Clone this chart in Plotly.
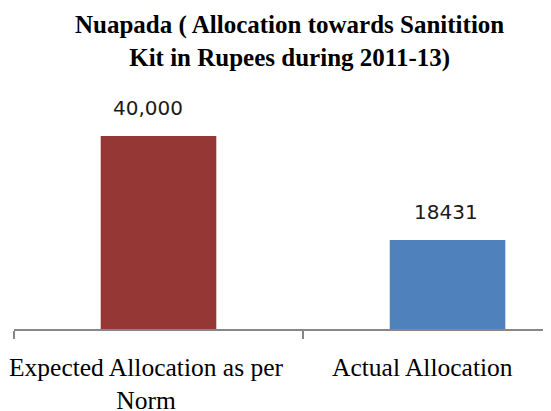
import plotly.graph_objects as go

categories = ["Expected Allocation as per<br>Norm", "Actual Allocation"]
values = [40000, 18431]
value_labels = ["40,000", "18431"]
bar_colors = ["#953735", "#4F81BD"]
title_text = "<b>Nuapada ( Allocation towards Sanitition<br>Kit in Rupees during 2011-13)</b>"

# page body has an 8px margin, so the figure is sized to fill the rest
W, H = 543, 403
fig = go.Figure()
fig.add_trace(go.Bar(
    x=[0, 1], y=values, marker=dict(color=bar_colors, line=dict(width=0)),
    width=0.40, hoverinfo="skip", showlegend=False,
))

# data labels
value_shift = [-11, -2]
for i, (v, t, s) in enumerate(zip(values, value_labels, value_shift)):
    fig.add_annotation(x=i, y=v, text=t, showarrow=False, xref="x", yref="y",
                       yanchor="bottom", yshift=14, xshift=s,
                       font=dict(family="DejaVu Sans", size=20, color="#1a1a1a"))

# category labels
label_shift = [-12, -25]
for i, (c, s) in enumerate(zip(categories, label_shift)):
    fig.add_annotation(x=i, y=0, text=c, showarrow=False, xref="x", yref="y",
                       yanchor="top", yshift=-22, xshift=s,
                       font=dict(family="Liberation Serif", size=25.5, color="#000000"))

# title
fig.add_annotation(x=279 / W, y=1, xref="paper", yref="paper", text=title_text,
                   showarrow=False, xanchor="center", yanchor="top", yshift=103,
                   font=dict(family="Liberation Serif", size=25, color="#000000"))

fig.update_layout(
    width=W, height=H,
    margin=dict(l=6, r=0, t=104, b=82),
    paper_bgcolor="white", plot_bgcolor="white",
    bargap=0.6,
)
fig.update_xaxes(
    range=[-0.5, 1.358], tickmode="array", tickvals=[-0.5, 0.5, 1.5], ticktext=["", "", ""],
    showline=True, linecolor="#878787", linewidth=1.5,
    ticks="outside", ticklen=8, tickcolor="#878787", tickwidth=1.5,
    showgrid=False, zeroline=False, fixedrange=True,
)
fig.update_yaxes(range=[0, 45000], visible=False, showgrid=False, zeroline=False)

fig.write_html("out.html")
